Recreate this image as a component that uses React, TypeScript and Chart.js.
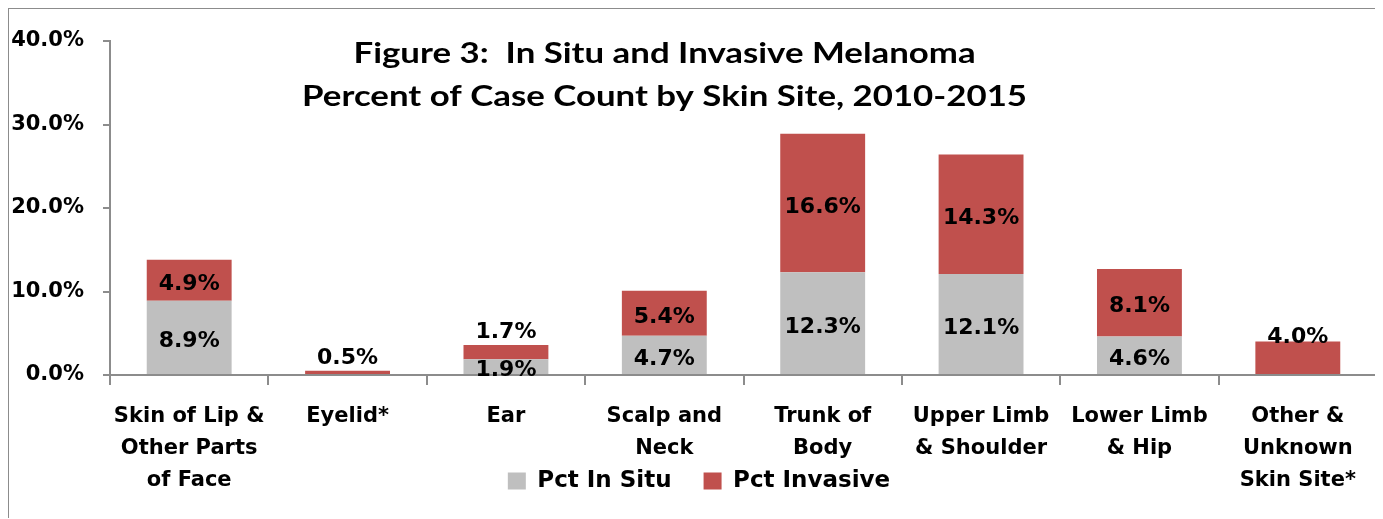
import React, { useEffect, useRef } from 'react';
import { Chart, registerables } from 'chart.js';

Chart.register(...registerables);

const categories: string[][] = [
  ['Skin of Lip &', 'Other Parts', 'of Face'],
  ['Eyelid*'],
  ['Ear'],
  ['Scalp and', 'Neck'],
  ['Trunk of', 'Body'],
  ['Upper Limb', '& Shoulder'],
  ['Lower Limb', '& Hip'],
  ['Other &', 'Unknown', 'Skin Site*'],
];
const seriesNames = ['Pct In Situ', 'Pct Invasive'];
const pctInSitu: (number | null)[] = [8.9, null, 1.9, 4.7, 12.3, 12.1, 4.6, null];
const pctInvasive: (number | null)[] = [4.9, 0.5, 1.7, 5.4, 16.6, 14.3, 8.1, 4.0];
const yTickValues = [0, 10, 20, 30, 40];
const titleLines = [
  'Figure 3:  In Situ and Invasive Melanoma',
  'Percent of Case Count by Skin Site, 2010-2015',
];
// where the invasive value label sits relative to its segment
const invasiveLabelPlacement = ['center', 'above', 'above', 'center', 'center', 'center', 'center', 'top'];

const LABEL_FONT = '"DejaVu Sans", sans-serif';
const AXIS_COLOR = '#8c8c8c';

const titlePlugin = {
  id: 'insideTitle',
  afterDraw(chart: any) {
    const { ctx, chartArea } = chart;
    ctx.save();
    ctx.fillStyle = '#000';
    ctx.font = 'bold 29px Lato, sans-serif';
    ctx.textAlign = 'center';
    ctx.textBaseline = 'alphabetic';
    const cx = chartArea.left + (chartArea.right - chartArea.left) * 0.4377;
    ctx.translate(cx, 0);
    ctx.scale(1.2, 1);
    ctx.fillText(titleLines[0], 0, chartArea.top + 22);
    ctx.fillText(titleLines[1], 0, chartArea.top + 65);
    ctx.restore();
  },
};

const legendShiftPlugin = {
  id: 'legendShift',
  afterLayout(chart: any) {
    if (chart.legend) {
      chart.legend.left += 7;
      chart.legend.right += 7;
    }
  },
};

const valueLabelPlugin = {
  id: 'valueLabels',
  afterDatasetsDraw(chart: any) {
    const { ctx } = chart;
    ctx.save();
    ctx.fillStyle = '#000';
    ctx.font = `bold 22px ${LABEL_FONT}`;
    ctx.textAlign = 'center';
    ctx.textBaseline = 'middle';
    chart.data.datasets.forEach((ds: any, di: number) => {
      const meta = chart.getDatasetMeta(di);
      meta.data.forEach((el: any, i: number) => {
        const v = ds.data[i];
        if (v === null || v === undefined) return;
        const { x, y, base } = el.getProps(['x', 'y', 'base'], true);
        let ly = (y + base) / 2 + 4;
        if (di === 1) {
          const mode = invasiveLabelPlacement[i];
          if (mode === 'above') ly = y - 13;
          else if (mode === 'top') ly = y - 4;
        }
        ctx.fillText(v.toFixed(1) + '%', x, ly);
      });
    });
    ctx.restore();
  },
};

export default function App() {
  const ref = useRef<HTMLCanvasElement | null>(null);

  useEffect(() => {
    if (!ref.current) return;
    const chart = new Chart(ref.current, {
      type: 'bar',
      data: {
        labels: categories,
        datasets: [
          {
            label: seriesNames[0],
            data: pctInSitu,
            backgroundColor: '#bfbfbf',
            borderWidth: 0,
            stack: 's',
          },
          {
            label: seriesNames[1],
            data: pctInvasive,
            backgroundColor: '#c0504d',
            borderWidth: 0,
            stack: 's',
          },
        ],
      },
      options: {
        responsive: false,
        animation: false,
        devicePixelRatio: 1,
        layout: { padding: { top: 34, right: 5, bottom: 15.5, left: 0 } },
        datasets: {
          bar: { barPercentage: 0.536, categoryPercentage: 1 },
        },
        plugins: {
          title: { display: false },
          tooltip: { enabled: false },
          legend: {
            position: 'bottom',
            labels: {
              color: '#000',
              font: { family: LABEL_FONT, size: 23, weight: 'bold' },
              boxWidth: 18,
              boxHeight: 17,
              padding: 32,
            },
          },
        },
        scales: {
          x: {
            stacked: true,
            border: { display: true, color: AXIS_COLOR, width: 2 },
            grid: {
              offset: true,
              drawOnChartArea: false,
              drawTicks: true,
              tickLength: 10,
              color: AXIS_COLOR,
              lineWidth: 2,
            },
            ticks: {
              color: '#000',
              font: { family: LABEL_FONT, size: 21, weight: 'bold', lineHeight: 32 / 21 },
              padding: 16,
              maxRotation: 0,
              autoSkip: false,
            },
            afterFit(scale: any) {
              scale.height = 62.5;
              // let the multi-line category labels run past the axis box, as in the original
              scale._computeLabelArea = () => undefined;
            },
          },
          y: {
            stacked: true,
            min: 0,
            max: 40,
            afterBuildTicks(scale: any) {
              scale.ticks = yTickValues.map((v) => ({ value: v }));
            },
            border: { display: true, color: AXIS_COLOR, width: 2 },
            grid: {
              drawOnChartArea: false,
              drawTicks: true,
              tickLength: 7,
              color: AXIS_COLOR,
              lineWidth: 2,
            },
            ticks: {
              color: '#000',
              font: { family: LABEL_FONT, size: 21, weight: 'bold' },
              padding: 19,
              callback: (v: any) => Number(v).toFixed(1) + '%',
            },
            afterFit(scale: any) {
              scale.width = 103;
            },
          },
        },
      },
      plugins: [titlePlugin, valueLabelPlugin, legendShiftPlugin],
    } as any);
    return () => chart.destroy();
  }, []);

  return (
    <div style={{ position: 'relative', marginLeft: -1, marginTop: -1, width: 1375, height: 511 }}>
      <canvas ref={ref} width={1375} height={511} style={{ display: 'block', width: 1375, height: 511 }} />
      <div
        style={{
          position: 'absolute',
          left: 0,
          top: 0,
          width: 1372,
          height: 511,
          boxSizing: 'border-box',
          borderLeft: `2px solid ${AXIS_COLOR}`,
          borderTop: `2px solid ${AXIS_COLOR}`,
          borderRight: `2px solid ${AXIS_COLOR}`,
          pointerEvents: 'none',
        }}
      />
    </div>
  );
}
